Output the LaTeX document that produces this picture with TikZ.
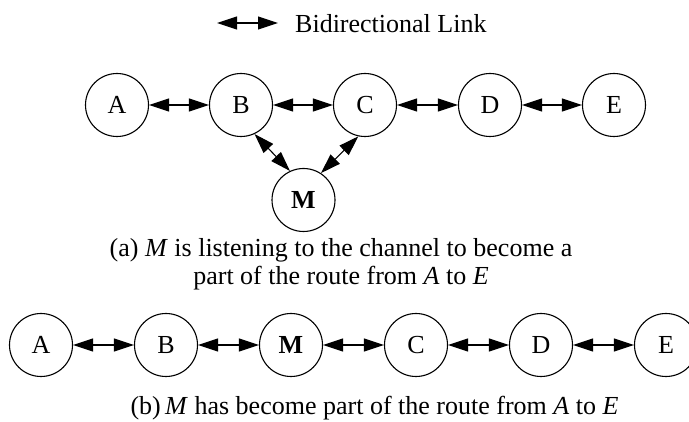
\documentclass[tikz,border=0pt]{standalone}
\usepackage{fontspec}
\setmainfont{Liberation Serif}
\usetikzlibrary{arrows.meta}
\begin{document}
\begin{tikzpicture}[x=1pt,y=-1pt,
  every node/.style={font=\fontsize{26}{28}\selectfont},
  nd/.style={circle,draw,line width=1.1pt,minimum size=63pt,inner sep=0pt},
  link/.style={line width=1.1pt,{Triangle[length=20pt,width=13pt]}-{Triangle[length=20pt,width=13pt]}},
  txt/.style={anchor=base,inner sep=0pt}]
\useasboundingbox (0,0) rectangle (689,422);
% legend
\coordinate (l1) at (217,23);
\coordinate (l2) at (278,23);
\draw[link] (l1) -- (l2);
\node[txt,anchor=base west] (leg) at (295,33) {Bidirectional Link};
% (a)
\node[nd] (A) at (117,105) {A};
\node[nd] (B) at (241,105) {B};
\node[nd] (C) at (365,105) {C};
\node[nd] (D) at (490,105) {D};
\node[nd] (E) at (614,105) {E};
\node[nd] (M) at (303.5,200) {\textbf{M}};
\draw[link] (A) -- (B);
\draw[link] (B) -- (C);
\draw[link] (C) -- (D);
\draw[link] (D) -- (E);
\draw[link] (B.-65) -- (M.115);
\draw[link] (C.-102) -- (M.57);
\node[txt] (capa1) at (341,257) {(a) \textit{M} is listening to the channel to become a};
\node[txt] (capa2) at (341,285) {part of the route from \textit{A} to \textit{E}};
% (b)
\node[nd] (A2) at (41,345) {A};
\node[nd] (B2) at (166,345) {B};
\node[nd] (M2) at (291,345) {\textbf{M}};
\node[nd] (C2) at (416,345) {C};
\node[nd] (D2) at (541,345) {D};
\node[nd] (E2) at (666,345) {E};
\draw[link] (A2) -- (B2);
\draw[link] (B2) -- (M2);
\draw[link] (M2) -- (C2);
\draw[link] (C2) -- (D2);
\draw[link] (D2) -- (E2);
\node[txt] (capb) at (374.5,415) {(b)\,\textit{M} has become part of the route from \textit{A} to \textit{E}};
\end{tikzpicture}
\end{document}
